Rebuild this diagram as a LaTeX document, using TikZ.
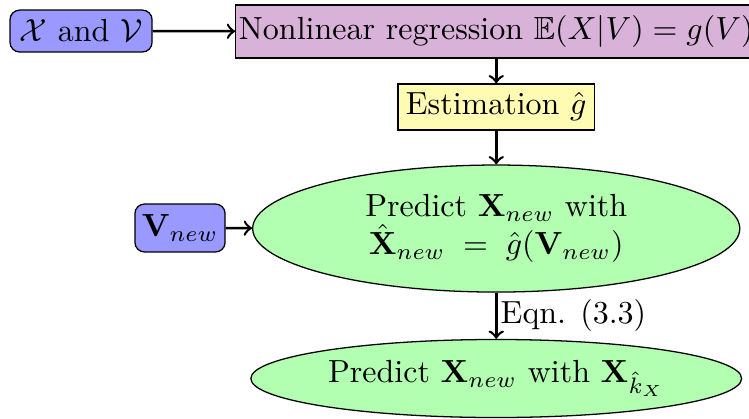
\documentclass[tikz,border=0pt]{standalone}
\usepackage{amsmath,amssymb}
\usetikzlibrary{shapes.geometric}
\begin{document}
\begin{tikzpicture}[
    inbox/.style={draw,rounded corners=3pt,fill=blue!40,inner sep=1pt},
    stepbox/.style={draw,inner sep=1pt},
    predict/.style={draw,ellipse,fill=green!30,inner sep=0pt,align=center},
    flow/.style={->,thick}]
  \useasboundingbox (0,0) rectangle (8.226,4.591);
  \node[inbox,minimum width=1.56cm,minimum height=0.46cm] (xv) at (0.89,4.25)
        {$\mathcal{X}$ and $\mathcal{V}$};
  \node[stepbox,fill=violet!30,minimum width=5.71cm,minimum height=0.58cm]
        (regr) at (5.45,4.245)
        {Nonlinear regression $\mathbb{E}(X|V)=g(V)$};
  \node[stepbox,fill=yellow!30,minimum width=2.16cm,minimum height=0.505cm]
        (est) at (5.45,3.416) {Estimation $\hat{g}$};
  \node[predict,minimum width=5.35cm,minimum height=1.395cm] (pred) at (5.45,2.081)
        {Predict $\mathbf{X}_{new}$ with\\
         $\hat{\mathbf{X}}_{new}\;=\;\hat{g}(\mathbf{V}_{new})$};
  \node[inbox,minimum width=0.99cm,minimum height=0.527cm] (vnew) at (1.977,2.087)
        {$\mathbf{V}_{new}$};
  \node[predict,minimum width=5.39cm,minimum height=0.857cm] (predk) at (5.45,0.434)
        {Predict $\mathbf{X}_{new}$ with $\mathbf{X}_{\hat{k}_X}$};
  \draw[flow] (xv) -- (regr);
  \draw[flow] (regr) -- (est);
  \draw[flow] (est) -- (pred);
  \draw[flow] (vnew) -- (pred);
  \draw[flow] (pred) -- node[right,inner sep=1pt]{Eqn. (3.3)} (predk);
\end{tikzpicture}
\end{document}
